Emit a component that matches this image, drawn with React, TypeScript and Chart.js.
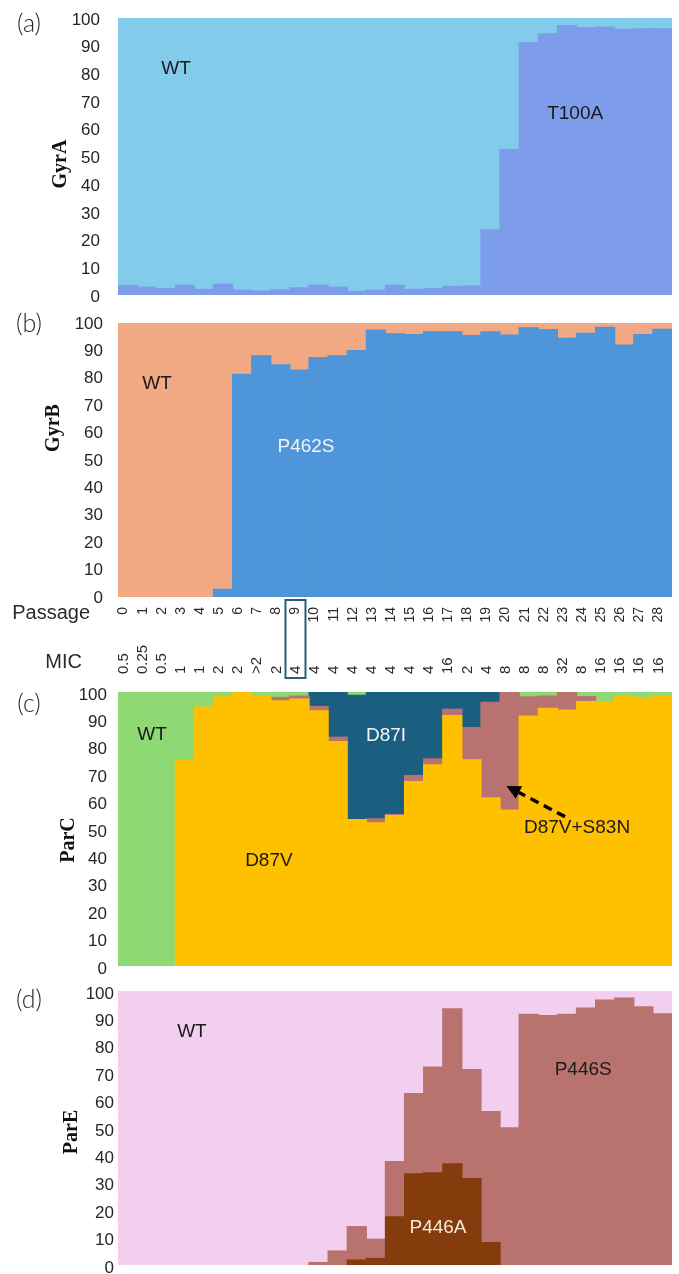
import React, { useEffect, useRef } from "react";
import { Chart, registerables } from "chart.js";

Chart.register(...registerables);

// ---------- data ----------
const PASSAGES = ["0","1","2","3","4","5","6","7","8","9","10","11","12","13","14","15","16","17","18","19","20","21","22","23","24","25","26","27","28"];
const MIC = ["0.5","0.25","0.5","1","1","2","2",">2","2","4","4","4","4","4","4","4","4","16","2","4","8","8","8","32","8","16","16","16","16"];
const BOXED_PASSAGE = 9;

// (a) GyrA
const GYRA_T100A = [3.4,2.8,2.3,3.5,2.0,3.9,1.7,1.4,1.8,2.6,3.6,2.8,1.3,1.7,3.5,2.0,2.3,3.1,3.2,23.5,52.5,91.0,94.3,97.3,96.4,96.7,95.9,96.1,96.1];
const GYRA_WT = [96.6,97.2,97.7,96.5,98.0,96.1,98.3,98.6,98.2,97.4,96.4,97.2,98.7,98.3,96.5,98.0,97.7,96.9,96.8,76.5,47.5,9.0,5.7,2.7,3.6,3.3,4.1,3.9,3.9];

// (b) GyrB
const GYRB_P462S = [0,0,0,0,0,2.8,81.3,88.0,84.7,82.8,87.4,88.0,89.9,97.4,96.0,95.8,96.8,96.8,95.4,96.8,95.6,98.2,97.6,94.4,96.2,98.4,91.9,95.8,97.7];
const GYRB_WT = [100,100,100,100,100,97.2,18.7,12.0,15.3,17.2,12.6,12.0,10.1,2.6,4.0,4.2,3.2,3.2,4.6,3.2,4.4,1.8,2.4,5.6,3.8,1.6,8.1,4.2,2.3];

// (c) ParC
const PARC_D87V = [0,0,0,75.0,94.5,98.2,100,98.5,96.8,97.4,93.1,81.9,53.4,52.2,54.9,67.3,73.4,91.4,75.2,61.4,56.9,91.2,94.0,93.4,96.5,96.2,98.5,97.9,98.5];
const PARC_D87V_S83N = [0,0,0,0,0,0,0,0,1.2,1.1,1.6,1.6,0,1.5,0.4,2.2,2.2,2.3,11.8,34.8,43.1,7.0,4.5,6.6,1.8,0,0,0,0];
const PARC_D87I = [0,0,0,0,0,0,0,0,0,0,5.3,16.5,45.4,46.3,44.7,30.5,24.4,6.3,13.0,3.8,0,0,0,0,0,0,0,0,0];
const PARC_WT = [100,100,100,25.0,5.5,1.8,0,1.5,2.0,1.5,0,0,1.2,0,0,0,0,0,0,0,0,1.8,1.5,0,1.7,3.8,1.5,2.1,1.5];

// (d) ParE
const PARE_P446A = [0,0,0,0,0,0,0,0,0,0,0,0,1.8,2.4,17.6,33.3,33.6,36.9,31.5,8.2,0,0,0,0,0,0,0,0,0];
const PARE_P446S = [0,0,0,0,0,0,0,0,0,0,0.9,5.1,12.2,7.0,20.1,29.3,38.6,56.6,39.8,47.8,50.1,91.5,91.0,91.5,93.8,96.7,97.4,94.2,91.7];
const PARE_WT = [100,100,100,100,100,100,100,100,100,100,99.1,94.9,86.0,90.6,62.3,37.4,27.8,6.5,28.7,44.0,49.9,8.5,9.0,8.5,6.2,3.3,2.6,5.8,8.3];

// ---------- styles ----------
const SANS = "'Liberation Sans', Arial, Helvetica, sans-serif";
const SERIF = "'Liberation Serif', 'Times New Roman', serif";
const W = 679;

type Lbl = { text: string; idx: number; val: number; color: string };
type Spec = {
  top: number;
  letter: string; letterY: number;
  title: string; titleX: number; titleY: number;
  labels: Lbl[];
  arrow?: { from: [number, number]; to: [number, number] };
  table?: boolean;
};

function makeAnnot(spec: Spec) {
  return {
    id: "annot",
    afterDraw(chart: any) {
      const { ctx, chartArea: a, scales } = chart;
      const yS = scales.y;
      const n = chart.data.labels.length;
      const bw = a.width / n;
      const cx = (idx: number) => a.left + (idx + 0.5) * bw;
      const off = spec.top;
      ctx.save();
      ctx.textAlign = "center";
      ctx.textBaseline = "middle";
      // panel letter
      ctx.font = `300 25px Lato, 'Open Sans', sans-serif`;
      ctx.fillStyle = "#2a2a2a";
      ctx.fillText(spec.letter, 29, spec.letterY - off);
      // axis title
      ctx.save();
      ctx.translate(spec.titleX, spec.titleY - off);
      ctx.rotate(-Math.PI / 2);
      ctx.font = `bold 20px ${SERIF}`;
      ctx.fillStyle = "#111";
      ctx.fillText(spec.title, 0, 0);
      ctx.restore();
      // in-plot labels
      ctx.font = `19px ${SANS}`;
      for (const l of spec.labels) {
        ctx.fillStyle = l.color;
        ctx.fillText(l.text, cx(l.idx), yS.getPixelForValue(l.val));
      }
      // arrow
      if (spec.arrow) {
        const x1 = cx(spec.arrow.from[0]), y1 = yS.getPixelForValue(spec.arrow.from[1]);
        const x2 = cx(spec.arrow.to[0]), y2 = yS.getPixelForValue(spec.arrow.to[1]);
        const ang = Math.atan2(y2 - y1, x2 - x1);
        const hl = 14, hw = 7;
        const bx = x2 - hl * Math.cos(ang), by = y2 - hl * Math.sin(ang);
        ctx.strokeStyle = "#000";
        ctx.lineWidth = 3.5;
        ctx.setLineDash([9, 6]);
        ctx.beginPath();
        ctx.moveTo(x1, y1);
        ctx.lineTo(bx, by);
        ctx.stroke();
        ctx.setLineDash([]);
        ctx.fillStyle = "#000";
        ctx.beginPath();
        ctx.moveTo(x2, y2);
        ctx.lineTo(bx + hw * Math.sin(ang), by - hw * Math.cos(ang));
        ctx.lineTo(bx - hw * Math.sin(ang), by + hw * Math.cos(ang));
        ctx.closePath();
        ctx.fill();
      }
      // passage / MIC table
      if (spec.table) {
        ctx.fillStyle = "#2a2a2a";
        ctx.font = `20px ${SANS}`;
        ctx.textAlign = "right";
        ctx.fillText("Passage", 90, 613 - off);
        ctx.fillText("MIC", 82, 662 - off);
        for (let i = 0; i < n; i++) {
          const x = cx(i) - 4;
          ctx.font = `14px ${SANS}`;
          ctx.save();
          ctx.translate(x, 607 - off);
          ctx.rotate(-Math.PI / 2);
          ctx.textAlign = "right";
          ctx.fillText(PASSAGES[i], 0, 0);
          ctx.restore();
          ctx.font = `15px ${SANS}`;
          ctx.save();
          ctx.translate(x, 674 - off);
          ctx.rotate(-Math.PI / 2);
          ctx.textAlign = "left";
          ctx.fillText(MIC[i], 0, 0);
          ctx.restore();
        }
        const bxc = cx(BOXED_PASSAGE) - 4;
        ctx.strokeStyle = "#2b5d76";
        ctx.lineWidth = 2;
        ctx.strokeRect(bxc - 10, 600 - off, 20, 78);
      }
      ctx.restore();
    },
  };
}

function makeConfig(
  datasets: { label: string; data: number[]; color: string }[],
  pad: { top: number; bottom: number },
  tickPad: number,
  labelOffset: number,
  spec: Spec
) {
  return {
    type: "bar" as const,
    data: {
      labels: PASSAGES,
      datasets: datasets.map((d) => ({
        label: d.label,
        data: d.data,
        backgroundColor: d.color,
        borderWidth: 0,
        barPercentage: 1,
        categoryPercentage: 1,
        inflateAmount: (c: any) => (c.raw > 0 ? 0.6 : 0),
      })),
    },
    options: {
      responsive: false,
      animation: false as const,
      layout: { padding: { top: pad.top, bottom: pad.bottom, left: 0, right: 7 } },
      plugins: { legend: { display: false }, tooltip: { enabled: false } },
      scales: {
        x: { stacked: true, display: false, offset: true, grid: { display: false } },
        y: {
          stacked: true,
          min: 0,
          max: 100,
          afterFit: (axis: any) => {
            axis.width = 118;
            axis.paddingTop = 0;
            axis.paddingBottom = 0;
          },
          grid: { display: false, drawTicks: false },
          border: { display: false },
          ticks: {
            stepSize: 10,
            padding: tickPad,
            labelOffset,
            color: "#262626",
            font: { family: SANS, size: 17 },
          },
        },
      },
    },
    plugins: [makeAnnot(spec)],
  };
}

function Panel({ top, height, build }: { top: number; height: number; build: () => any }) {
  const ref = useRef<HTMLCanvasElement>(null);
  useEffect(() => {
    const chart = new Chart(ref.current as HTMLCanvasElement, build());
    return () => chart.destroy();
  }, []);
  return (
    <canvas
      ref={ref}
      width={W}
      height={height}
      style={{ position: "absolute", left: 0, top, width: W, height }}
    />
  );
}

export default function App() {
  return (
    <div style={{ position: "absolute", left: 0, top: 0, width: W, height: 1274, background: "#fff" }}>
      <Panel
        top={0}
        height={308}
        build={() =>
          makeConfig(
            [
              { label: "T100A", data: GYRA_T100A, color: "#7D9DEB" },
              { label: "WT", data: GYRA_WT, color: "#83CBEB" },
            ],
            { top: 18, bottom: 13 },
            18,
            2,
            {
              top: 0, letter: "(a)", letterY: 24, title: "GyrA", titleX: 61, titleY: 164,
              labels: [
                { text: "WT", idx: 2.54, val: 81.6, color: "#1a1a1a" },
                { text: "T100A", idx: 23.43, val: 65.3, color: "#1a1a1a" },
              ],
            }
          )
        }
      />
      <Panel
        top={300}
        height={385}
        build={() =>
          makeConfig(
            [
              { label: "P462S", data: GYRB_P462S, color: "#4E95D9" },
              { label: "WT", data: GYRB_WT, color: "#F1A983" },
            ],
            { top: 23, bottom: 88 },
            15,
            1,
            {
              top: 300, letter: "(b)", letterY: 324, title: "GyrB", titleX: 54, titleY: 428,
              labels: [
                { text: "WT", idx: 1.54, val: 77.7, color: "#1a1a1a" },
                { text: "P462S", idx: 9.34, val: 54.7, color: "#f4f4f4" },
              ],
              table: true,
            }
          )
        }
      />
      <Panel
        top={685}
        height={295}
        build={() =>
          makeConfig(
            [
              { label: "D87V", data: PARC_D87V, color: "#FFC000" },
              { label: "D87V+S83N", data: PARC_D87V_S83N, color: "#B8726F" },
              { label: "D87I", data: PARC_D87I, color: "#1A5E80" },
              { label: "WT", data: PARC_WT, color: "#8ED973" },
            ],
            { top: 7, bottom: 14 },
            11,
            3,
            {
              top: 685, letter: "(c)", letterY: 704, title: "ParC", titleX: 69, titleY: 840,
              labels: [
                { text: "WT", idx: 1.28, val: 84.3, color: "#1a1a1a" },
                { text: "D87I", idx: 13.53, val: 83.9, color: "#f4f4f4" },
                { text: "D87V", idx: 7.4, val: 38.3, color: "#1a1a1a" },
                { text: "D87V+S83N", idx: 23.53, val: 50.4, color: "#1a1a1a" },
              ],
              arrow: { from: [22.9, 54.5], to: [19.84, 65.7] },
            }
          )
        }
      />
      <Panel
        top={980}
        height={294}
        build={() =>
          makeConfig(
            [
              { label: "P446A", data: PARE_P446A, color: "#843C0C" },
              { label: "P446S", data: PARE_P446S, color: "#B8736F" },
              { label: "WT", data: PARE_WT, color: "#F2CEEF" },
            ],
            { top: 11, bottom: 9 },
            4,
            3,
            {
              top: 980, letter: "(d)", letterY: 1000, title: "ParE", titleX: 72, titleY: 1132,
              labels: [
                { text: "WT", idx: 3.37, val: 85.0, color: "#1a1a1a" },
                { text: "P446S", idx: 23.85, val: 71.2, color: "#1a1a1a" },
                { text: "P446A", idx: 16.25, val: 13.5, color: "#f6eadb" },
              ],
            }
          )
        }
      />
    </div>
  );
}
